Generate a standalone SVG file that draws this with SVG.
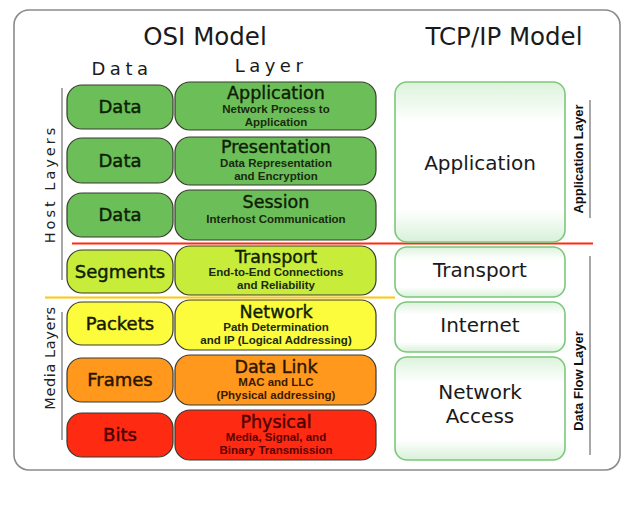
<svg xmlns="http://www.w3.org/2000/svg" width="639" height="508" viewBox="0 0 639 508">
<defs>
<linearGradient id="tcpg" x1="0" y1="0" x2="0" y2="1">
<stop offset="0" stop-color="#dcf3dc"/>
<stop offset="0.25" stop-color="#ffffff"/>
<stop offset="0.8" stop-color="#ffffff"/>
<stop offset="1" stop-color="#d8f1d8"/>
</linearGradient>
<style>
.osi{stroke:#3a3a30;stroke-width:1.2}
.g{fill:#6cbf58}
.yg{fill:#c8ec3a}
.y{fill:#fcfc3c}
.o{fill:#ff981c}
.r{fill:#ff2a12}
.tcp{fill:url(#tcpg);stroke:#7cc77c;stroke-width:1.6}
.title{font-family:"DejaVu Sans",sans-serif;font-size:24.5px;fill:#1a1a1a;text-anchor:middle}
.hdr{font-family:"DejaVu Sans",sans-serif;font-size:18px;fill:#1a1a1a;text-anchor:middle}
.du{font-family:"DejaVu Sans",sans-serif;font-size:18px;fill:#0e1e05;stroke:#0e1e05;stroke-width:0.45;text-anchor:middle}
.ln{font-family:"DejaVu Sans",sans-serif;font-size:17.5px;fill:#0e1e05;stroke:#0e1e05;stroke-width:0.4;text-anchor:middle}
.sub{font-family:"Liberation Sans",Arial,sans-serif;font-size:11.5px;font-weight:bold;fill:#1a2a10;text-anchor:middle}
.tl{font-family:"DejaVu Sans",sans-serif;font-size:20px;fill:#1a1a1a;text-anchor:middle}
.side{font-family:"DejaVu Sans",sans-serif;font-size:14.5px;fill:#222;text-anchor:middle}
.rside{font-family:"Liberation Sans",Arial,sans-serif;font-size:13px;font-weight:bold;fill:#111;text-anchor:middle}
.gl{stroke:#a8a8a8;stroke-width:2}
</style>
</defs>
<rect x="14" y="10" width="606" height="460" rx="15" fill="#ffffff" stroke="#8a8a8a" stroke-width="1.6"/>

<text class="title" x="205" y="45">OSI Model</text>
<text class="title" x="504" y="45">TCP/IP Model</text>
<text class="hdr" x="122" y="75" letter-spacing="4.5">Data</text>
<text class="hdr" x="271" y="72" letter-spacing="4.5">Layer</text>

<g id="separators">
<line x1="72" y1="243.5" x2="593" y2="243.5" stroke="#ff2a10" stroke-width="2"/>
<line x1="45" y1="297.5" x2="395" y2="297.5" stroke="#ffc800" stroke-width="2"/>
</g>

<g id="side-labels">
<line class="gl" x1="62" y1="88" x2="62" y2="280"/>
<text class="side" transform="translate(55,184) rotate(-90)" letter-spacing="3">Host Layers</text>
<line class="gl" x1="62" y1="312" x2="62" y2="440"/>
<text class="side" transform="translate(55,358) rotate(-90)" letter-spacing="0.6">Media Layers</text>
<line class="gl" x1="590" y1="100" x2="590" y2="218"/>
<text class="rside" transform="translate(583,159) rotate(-90)">Application Layer</text>
<line class="gl" x1="590" y1="256" x2="590" y2="455"/>
<text class="rside" transform="translate(583,381) rotate(-90)">Data Flow Layer</text>
</g>

<g id="data1"><rect class="osi g" x="67" y="85" width="106" height="44" rx="15"/><text class="du" x="120" y="113">Data</text></g>
<g id="data2"><rect class="osi g" x="67" y="138" width="106" height="45" rx="15"/><text class="du" x="120" y="167">Data</text></g>
<g id="data3"><rect class="osi g" x="67" y="193" width="106" height="44" rx="15"/><text class="du" x="120" y="221">Data</text></g>
<g id="segments"><rect class="osi yg" x="67" y="250" width="106" height="43" rx="15"/><text class="du" x="120" y="278">Segments</text></g>
<g id="packets"><rect class="osi y" x="67" y="302" width="106" height="43" rx="15"/><text class="du" x="120" y="330" style="fill:#1a1a00;stroke:#1a1a00">Packets</text></g>
<g id="frames"><rect class="osi o" x="67" y="358" width="106" height="44" rx="15"/><text class="du" x="120" y="386" style="fill:#2a1500;stroke:#2a1500">Frames</text></g>
<g id="bits"><rect class="osi r" x="67" y="413" width="106" height="44" rx="15"/><text class="du" x="120" y="441" style="fill:#4a0000;stroke:#4a0000">Bits</text></g>

<g id="application">
<rect class="osi g" x="175" y="82" width="201" height="48" rx="15"/>
<text class="ln" x="276" y="99">Application</text>
<text class="sub" x="276" y="113">Network Process to</text>
<text class="sub" x="276" y="126">Application</text>
</g>
<g id="presentation">
<rect class="osi g" x="175" y="137" width="201" height="48" rx="15"/>
<text class="ln" x="276" y="153">Presentation</text>
<text class="sub" x="276" y="167">Data Representation</text>
<text class="sub" x="276" y="180">and Encryption</text>
</g>
<g id="session">
<rect class="osi g" x="175" y="190" width="201" height="50" rx="15"/>
<text class="ln" x="276" y="208">Session</text>
<text class="sub" x="276" y="223">Interhost Communication</text>
</g>
<g id="transport">
<rect class="osi yg" x="175" y="246" width="201" height="49" rx="15"/>
<text class="ln" x="276" y="263">Transport</text>
<text class="sub" x="276" y="276">End-to-End Connections</text>
<text class="sub" x="276" y="289">and Reliability</text>
</g>
<g id="network">
<rect class="osi y" x="175" y="300" width="201" height="50" rx="15"/>
<text class="ln" x="276" y="318">Network</text>
<text class="sub" x="276" y="331">Path Determination</text>
<text class="sub" x="276" y="344">and IP (Logical Addressing)</text>
</g>
<g id="datalink">
<rect class="osi o" x="175" y="355" width="201" height="50" rx="15"/>
<text class="ln" x="276" y="373" style="fill:#2a1500;stroke:#2a1500">Data Link</text>
<text class="sub" x="276" y="386" style="fill:#3a1a00">MAC and LLC</text>
<text class="sub" x="276" y="399" style="fill:#3a1a00">(Physical addressing)</text>
</g>
<g id="physical">
<rect class="osi r" x="175" y="410" width="201" height="50" rx="15"/>
<text class="ln" x="276" y="428" style="fill:#4a0000;stroke:#4a0000">Physical</text>
<text class="sub" x="276" y="441" style="fill:#5a0000">Media, Signal, and</text>
<text class="sub" x="276" y="454" style="fill:#5a0000">Binary Transmission</text>
</g>

<g id="tcp-application"><rect class="tcp" x="395" y="82" width="170" height="160" rx="12"/><text class="tl" x="480" y="170">Application</text></g>
<g id="tcp-transport"><rect class="tcp" x="395" y="247" width="170" height="50" rx="12"/><text class="tl" x="480" y="277">Transport</text></g>
<g id="tcp-internet"><rect class="tcp" x="395" y="302" width="170" height="50" rx="12"/><text class="tl" x="480" y="332">Internet</text></g>
<g id="tcp-netaccess"><rect class="tcp" x="395" y="357" width="170" height="103" rx="12"/><text class="tl" x="480" y="399">Network</text><text class="tl" x="480" y="423">Access</text></g>
</svg>
